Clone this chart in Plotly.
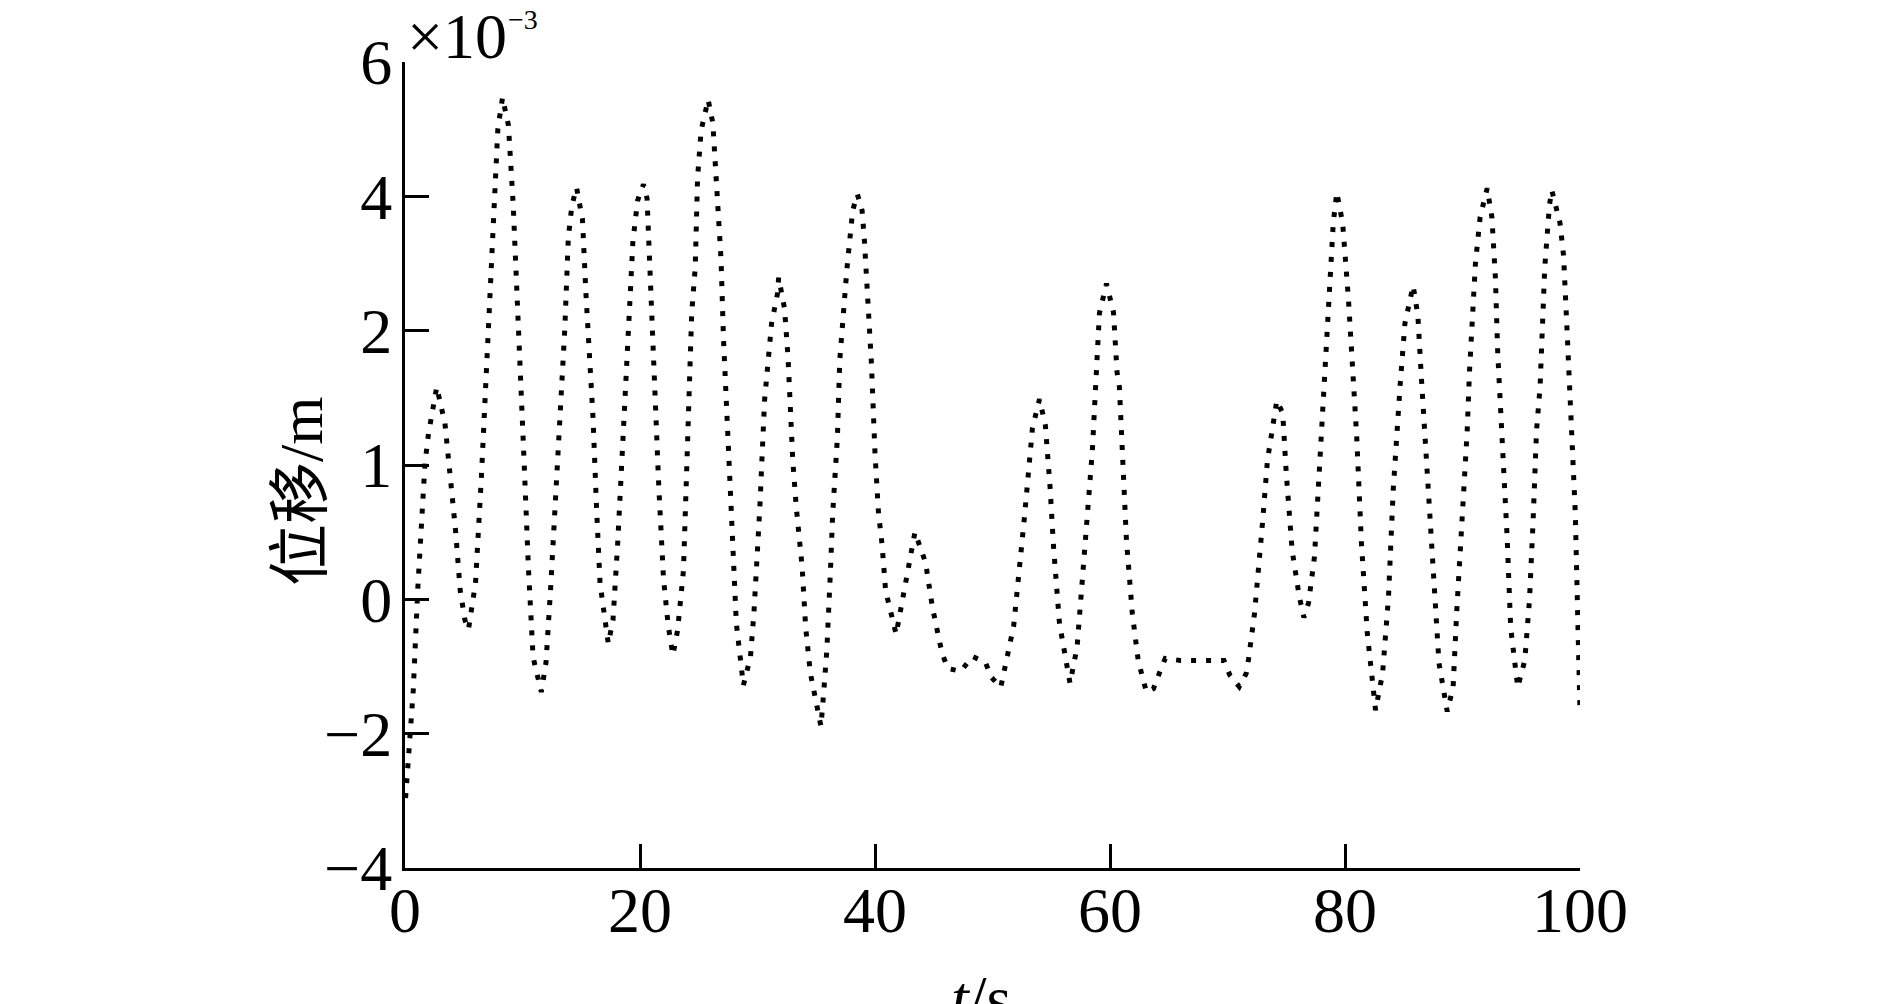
import plotly.graph_objects as go

# Time (s)
t_s = [0.05, 0.4, 0.7, 1.1, 1.7, 2.0, 2.7, 3.4, 3.8, 4.3, 4.7, 5.1, 5.4, 6.0, 6.5, 7.0, 7.7, 7.9,
       8.3, 8.8, 9.2, 9.5, 9.8, 10.1, 10.5, 10.9, 11.6, 12.0, 12.4, 12.9, 13.4, 13.6, 13.9, 14.2,
       14.6, 15.1, 15.4, 15.7, 16.0, 16.3, 16.6, 17.3, 17.7, 18.1, 18.5, 19.0, 19.4, 19.8, 20.3,
       20.6, 20.8, 21.1, 21.4, 21.6, 22.0, 22.4, 22.8, 23.2, 23.7, 24.0, 24.4, 24.7, 24.9, 25.2,
       25.8, 26.2, 26.5, 26.9, 27.1, 27.5, 27.7, 27.9, 28.2, 28.8, 29.4, 29.7, 30.2, 30.6, 31.2,
       31.7, 31.8, 32.3, 32.6, 33.0, 33.3, 33.8, 34.1, 34.5, 35.4, 35.6, 35.9, 36.2, 36.4, 36.8,
       37.0, 37.6, 37.9, 38.1, 38.5, 38.9, 39.1, 39.4, 39.7, 40.0, 40.3, 40.6, 40.9, 41.8, 42.5,
       43.4, 44.3, 44.9, 45.7, 46.2, 47.3, 48.3, 49.4, 49.9, 50.7, 51.8, 52.7, 53.4, 54.0, 54.5,
       54.9, 55.2, 55.7, 56.6, 57.2, 57.6, 58.0, 58.5, 58.9, 59.1, 59.7, 60.3, 60.6, 60.8, 61.1,
       61.4, 61.9, 62.4, 63.1, 63.7, 64.2, 64.7, 66.0, 69.7, 70.2, 71.0, 71.6, 71.8, 72.3, 72.7,
       73.0, 73.4, 74.2, 74.7, 75.0, 75.5, 76.1, 76.5, 76.9, 77.4, 77.7, 78.0, 78.6, 79.0, 79.3,
       79.8, 80.3, 80.7, 81.0, 81.4, 81.9, 82.6, 83.2, 83.7, 84.1, 84.7, 85.1, 85.8, 86.2, 86.5,
       86.8, 87.2, 87.6, 88.0, 88.7, 89.2, 89.5, 90.0, 90.4, 90.6, 91.1, 91.5, 92.1, 92.5, 92.8,
       93.0, 93.4, 93.8, 94.1, 94.7, 95.3, 95.7, 96.0, 96.3, 96.6, 97.0, 97.4, 97.6, 98.3, 98.6,
       98.9, 99.3, 99.6, 99.8, 100.0]

# Displacement, in y-axis position units (ticks are evenly spaced, labelled 6,4,2,1,0,-2,-4 x1e-3)
disp_pos = [-2.96, -2.2, -1.36, 0.2, 2.02, 2.47, 3.16, 2.62, 1.95, 1.03, 0.13, -0.31, -0.45, 0.24,
            1.82, 3.62, 6.3, 7.0, 7.47, 7.06, 5.91, 4.79, 3.63, 2.2, 0.48, -0.86, -1.38, -0.94, 0.18,
            1.77, 3.36, 4.03, 5.39, 5.86, 6.13, 5.66, 4.55, 3.63, 2.71, 1.37, 0.24, -0.66, -0.31,
            0.83, 2.17, 3.75, 5.34, 5.94, 6.18, 5.97, 5.05, 3.9, 2.56, 1.67, 0.31, -0.39, -0.83,
            -0.46, 0.43, 2.22, 4.26, 4.94, 6.28, 6.98, 7.44, 7.09, 6.19, 5.05, 3.9, 2.37, 1.65, 0.54,
            -0.36, -1.28, -0.86, -0.19, 1.37, 2.96, 4.11, 4.55, 4.79, 4.33, 3.6, 2.07, 1.37, 0.48,
            -0.42, -1.1, -1.89, -1.46, -0.76, 0.39, 1.28, 2.41, 3.56, 4.9, 5.34, 5.79, 6.03, 5.79,
            5.34, 4.45, 3.5, 2.17, 1.28, 0.82, 0.13, -0.52, 0.15, 1.0, 0.55, -0.13, -0.8, -1.03,
            -1.07, -0.85, -0.94, -1.16, -1.31, -0.4, 1.19, 2.55, 2.98, 2.59, 1.67, 0.77, -0.36,
            -1.25, -0.71, 0.18, 1.09, 2.22, 3.59, 4.26, 4.70, 4.27, 3.38, 3.16, 2.02, 0.88, -0.21,
            -0.91, -1.38, -1.33, -1.1, -0.88, -0.91, -0.91, -1.13, -1.3, -1.1, -0.88, -0.21, 0.48,
            1.18, 2.07, 2.96, 2.77, 1.88, 0.73, 0.05, -0.27, -0.05, 0.63, 1.52, 2.66, 4.26, 5.6,
            6.06, 5.6, 4.45, 3.3, 2.41, 0.83, -0.51, -1.65, -1.1, 0.03, 1.62, 3.21, 4.11, 4.67,
            4.23, 3.3, 2.41, 1.52, 0.18, -0.95, -1.67, -1.31, -0.21, 1.18, 2.51, 3.41, 5.0, 5.69,
            6.12, 5.69, 4.79, 3.66, 2.32, 0.92, -0.42, -1.31, -0.91, -0.01, 1.13, 2.51, 3.16, 4.94,
            5.87, 6.09, 5.6, 5.12, 4.0, 2.41, 1.28, -0.21, -1.67]

x_ticks = [0, 20, 40, 60, 80, 100]
y_tick_pos = [-4, -2, 0, 2, 4, 6, 8]
y_tick_text = ["\u22124", "\u22122", "0", "1", "2", "4", "6"]

SERIF = "Times New Roman, Liberation Serif, serif"
FS = 64

fig = go.Figure()
fig.add_trace(go.Scatter(
    x=t_s, y=disp_pos, mode="lines",
    line=dict(color="black", width=5, dash="5px,10px"),
    showlegend=False, hoverinfo="skip",
))

axis_common = dict(
    showgrid=False, zeroline=False, showline=True, linecolor="black", linewidth=3,
    ticks="inside", ticklen=24, tickwidth=3, tickcolor="black",
    tickfont=dict(family=SERIF, size=FS, color="black"),
)
fig.update_xaxes(range=[0, 100], tickvals=x_ticks, ticktext=[str(v) for v in x_ticks],
                 ticklabelstandoff=-16, **axis_common)
fig.update_yaxes(range=[-4, 8], tickvals=y_tick_pos, ticktext=y_tick_text,
                 ticklabelstandoff=-3, **axis_common)

fig.update_layout(
    width=1881, height=996,
    margin=dict(l=397, r=309, t=54, b=136),
    paper_bgcolor="white", plot_bgcolor="white",
    annotations=[
        dict(text="×10", xref="paper", yref="paper", x=0, y=1,
             xanchor="left", yanchor="bottom", yshift=-12, showarrow=False,
             font=dict(family=SERIF, size=FS, color="black")),
        dict(text="\u22123", xref="paper", yref="paper", x=0, y=1,
             xanchor="left", yanchor="bottom", xshift=101, yshift=25, showarrow=False,
             font=dict(family=SERIF, size=28, color="black")),
        dict(text="<i>t</i>/s", xref="paper", yref="paper", x=0.49, y=-0.115,
             xanchor="center", yanchor="top", showarrow=False,
             font=dict(family=SERIF, size=FS, color="black")),
        dict(text="<span style='font-family:Noto Sans CJK SC'>位移</span>/m", xref="paper", yref="paper",
             x=-0.0936, y=0.4665, xanchor="center", yanchor="middle", textangle=-90, showarrow=False,
             font=dict(family=SERIF, size=FS - 2, color="black")),
    ],
)

fig.write_html("out.html")
